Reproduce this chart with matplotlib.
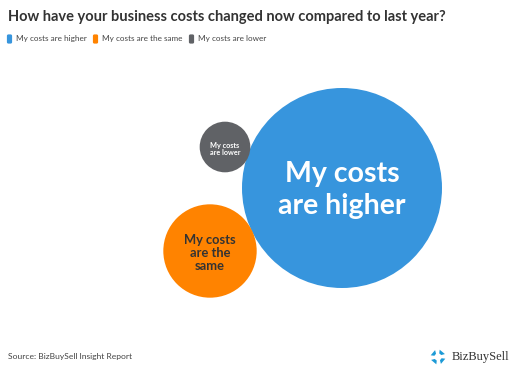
import numpy as np
import matplotlib.pyplot as plt
from matplotlib.patches import Circle, FancyBboxPatch, Polygon

plt.rcParams["font.family"] = ["Lato", "DejaVu Sans"]

# data
categories = ["My costs are higher", "My costs are the same", "My costs are lower"]
labels = ["My costs\nare higher", "My costs\nare the\nsame", "My costs\nare lower"]
shares = [78, 17, 5]

colors = ["#3795DD", "#FF8300", "#606266"]
text_colors = ["white", "#333333", "white"]
label_sizes = [20.5, 9.3, 5.2]
label_spacing = [1.25, 1.15, 0.95]
# bubble centres from the packed layout (pixels)
centres = [(342, 188), (210, 251), (225, 147)]

W, H = 518, 375
fig = plt.figure(figsize=(W / 100, H / 100), dpi=100, facecolor="white")
ax = fig.add_axes([0, 0, 1, 1])
ax.set_xlim(0, W)
ax.set_ylim(H, 0)
ax.set_axis_off()

# area-proportional radii
k = 100 / np.sqrt(max(shares))
radii = k * np.sqrt(np.array(shares, dtype=float))

for (cx, cy), r, c, lab, tc, fs, ls in zip(centres, radii, colors, labels, text_colors,
                                           label_sizes, label_spacing):
    ax.add_patch(Circle((cx, cy), r, facecolor=c, edgecolor="none", zorder=2))
    ax.text(cx, cy + 2, lab, ha="center", va="center", color=tc, fontsize=fs,
            fontweight="bold", linespacing=ls, zorder=3)

fig.text(8 / W, 1 - 17 / H, "How have your business costs changed now compared to last year?",
         fontsize=10.5, fontweight="bold", color="#333333", ha="left", va="center")

# legend
lx = [7, 93, 189]
for x, c, cat in zip(lx, colors, categories):
    ax.add_patch(FancyBboxPatch((x + 0.5, 35), 4, 8, boxstyle="round,pad=0.6,rounding_size=1.5",
                                facecolor=c, edgecolor="none"))
    ax.text(x + 9, 39, cat, fontsize=5.9, color="#444444", ha="left", va="center")

fig.text(8 / W, 1 - 357 / H, "Source: BizBuySell Insight Report", fontsize=6.1,
         color="#444444", ha="left", va="center")

# logo
icx, icy = 438, 357
for i in range(4):
    a = np.deg2rad(45 + 90 * i)
    pts = []
    for ang, rr in [(-32, 7.5), (22, 7.5), (14, 3.8), (-26, 3.8)]:
        t = a + np.deg2rad(ang)
        pts.append((icx + rr * np.cos(t), icy + rr * np.sin(t)))
    ax.add_patch(Polygon(pts, closed=True, facecolor="#1C9AD6", edgecolor="none"))
ax.text(452, 357, "BizBuySell", fontsize=9, family="Liberation Serif", color="#333333",
        ha="left", va="center")

fig.savefig("out.png", dpi=100, facecolor="white")
